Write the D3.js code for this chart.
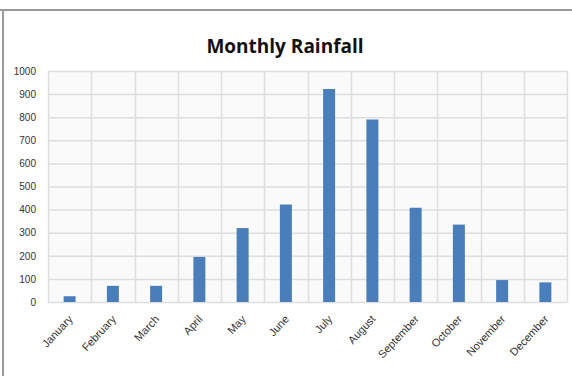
<!DOCTYPE html>
<html>
<head>
<meta charset="utf-8">
<script src="https://cdn.jsdelivr.net/npm/d3@7"></script>
<style>
  html, body { margin: 0; padding: 0; background: #fff; }
  svg { display: block; }
</style>
</head>
<body>
<svg id="chart" width="572" height="376"></svg>
<script>
// Monthly rainfall totals
const months = ["January", "February", "March", "April", "May", "June",
                "July", "August", "September", "October", "November", "December"];
const rainfall = [25, 70, 70, 195, 320, 422, 922, 790, 408, 335, 95, 85];
const yTicks = [0, 100, 200, 300, 400, 500, 600, 700, 800, 900, 1000];

const svg = d3.select("#chart");
const W = 572, H = 376;
const plot = { left: 48, right: 567, top: 71, bottom: 302 };

// outer frame
svg.append("rect").attr("x", 0).attr("y", 0).attr("width", W).attr("height", H).attr("fill", "#fff");
svg.append("line").attr("x1", 0).attr("x2", W).attr("y1", 10).attr("y2", 10)
  .attr("stroke", "#9a9a9a").attr("stroke-width", 2);
svg.append("line").attr("x1", 3).attr("x2", 3).attr("y1", 10).attr("y2", H)
  .attr("stroke", "#9a9a9a").attr("stroke-width", 2);

const x = d3.scaleBand().domain(months).range([plot.left, plot.right]).paddingInner(0).paddingOuter(0);
const y = d3.scaleLinear().domain([0, 1000]).range([plot.bottom, plot.top]);

// plot background
svg.append("rect").attr("x", plot.left).attr("y", plot.top)
  .attr("width", plot.right - plot.left).attr("height", plot.bottom - plot.top)
  .attr("fill", "#fafafa");

// horizontal gridlines
svg.append("g").selectAll("line").data(yTicks).join("line")
  .attr("x1", plot.left).attr("x2", plot.right)
  .attr("y1", d => y(d) + 0.5).attr("y2", d => y(d) + 0.5)
  .attr("stroke", "#dedede").attr("stroke-width", 1.5);

// vertical gridlines at category boundaries
const bounds = months.map(m => x(m)).concat([plot.right]);
svg.append("g").selectAll("line").data(bounds).join("line")
  .attr("x1", d => Math.round(d) + 0.5).attr("x2", d => Math.round(d) + 0.5)
  .attr("y1", plot.top).attr("y2", plot.bottom)
  .attr("stroke", "#dedede").attr("stroke-width", 1.5);

// bars
const barW = 12;
svg.append("g").selectAll("rect").data(months).join("rect")
  .attr("x", (d) => x(d) + x.bandwidth() / 2 - barW / 2)
  .attr("y", (d, i) => y(rainfall[i]))
  .attr("width", barW)
  .attr("height", (d, i) => y(0) - y(rainfall[i]))
  .attr("fill", "#4a7ebb");

// y axis labels
const yAxis = d3.axisLeft(y).tickValues(yTicks).tickFormat(d3.format("d")).tickSize(0).tickPadding(0);
const gy = svg.append("g").attr("transform", `translate(36,0)`).call(yAxis);
gy.select(".domain").remove();
gy.selectAll("text")
  .attr("font-family", "Liberation Sans, Arial, sans-serif")
  .attr("font-size", 10).attr("fill", "#333");

// x axis labels, rotated
const xAxis = d3.axisBottom(x).tickSize(0).tickPadding(0);
const gx = svg.append("g").attr("transform", `translate(0,${plot.bottom})`).call(xAxis);
gx.select(".domain").remove();
gx.selectAll("text")
  .attr("font-family", "Liberation Sans, Arial, sans-serif")
  .attr("font-size", 11).attr("fill", "#333")
  .attr("text-anchor", "end")
  .attr("dy", "0.35em")
  .attr("transform", "translate(1,15) rotate(-47)");

// title
svg.append("text").attr("x", 285).attr("y", 53)
  .attr("text-anchor", "middle")
  .attr("font-family", "Open Sans, Liberation Sans, Arial, sans-serif")
  .attr("font-weight", "bold").attr("font-size", 19).attr("fill", "#111")
  .text("Monthly Rainfall");
</script>
</body>
</html>
